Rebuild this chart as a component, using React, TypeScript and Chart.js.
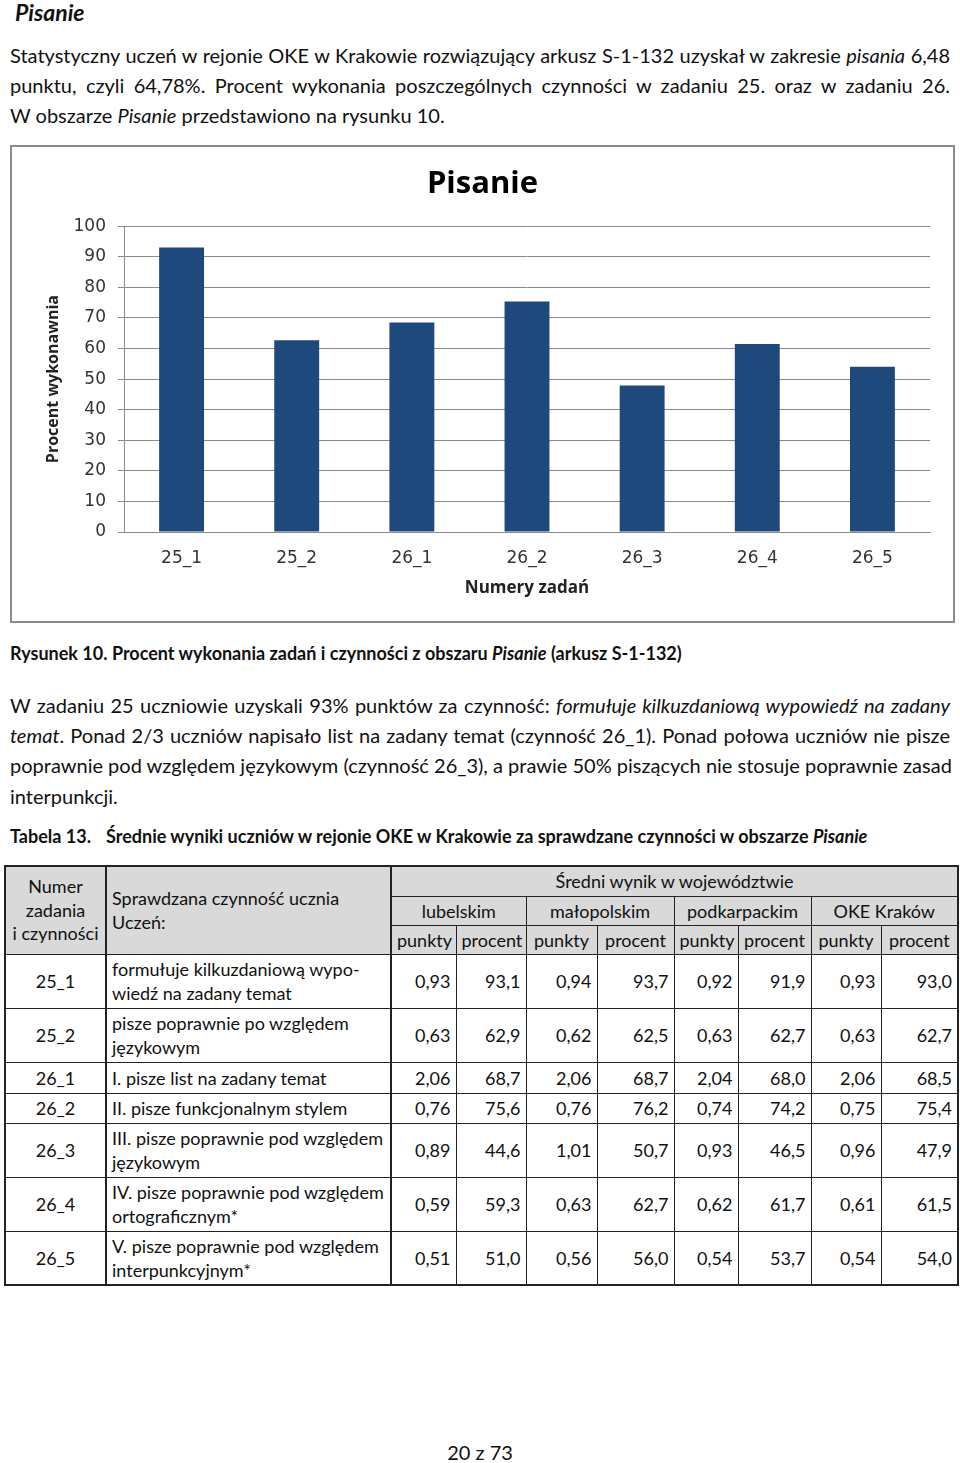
import React, { useEffect, useRef } from "react";
import { Chart, registerables } from "chart.js";

Chart.register(...registerables);

// ---------- chart data ----------
const categories = ["25_1", "25_2", "26_1", "26_2", "26_3", "26_4", "26_5"];
const percentValues = [93.0, 62.7, 68.5, 75.4, 47.9, 61.5, 54.0];
const yMin = 0;
const yMax = 100;
const yStep = 10;
const chartTitle = "Pisanie";
const yAxisTitle = "Procent wykonawnia";
const xAxisTitle = "Numery zadań";

// ---------- table data ----------
const taskIds = ["25_1", "25_2", "26_1", "26_2", "26_3", "26_4", "26_5"];
const taskDescriptions = [
  ["formułuje kilkuzdaniową wypo-", "wiedź na zadany temat"],
  ["pisze poprawnie po względem", "językowym"],
  ["I. pisze list na zadany temat"],
  ["II. pisze funkcjonalnym stylem"],
  ["III. pisze poprawnie pod względem", "językowym"],
  ["IV. pisze poprawnie pod względem", "ortograficznym*"],
  ["V. pisze poprawnie pod względem", "interpunkcyjnym*"],
];
const regions = ["lubelskim", "małopolskim", "podkarpackim", "OKE Kraków"];
const lubelskiePunkty = ["0,93", "0,63", "2,06", "0,76", "0,89", "0,59", "0,51"];
const lubelskieProcent = ["93,1", "62,9", "68,7", "75,6", "44,6", "59,3", "51,0"];
const malopolskiePunkty = ["0,94", "0,62", "2,06", "0,76", "1,01", "0,63", "0,56"];
const malopolskieProcent = ["93,7", "62,5", "68,7", "76,2", "50,7", "62,7", "56,0"];
const podkarpackiePunkty = ["0,92", "0,63", "2,04", "0,74", "0,93", "0,62", "0,54"];
const podkarpackieProcent = ["91,9", "62,7", "68,0", "74,2", "46,5", "61,7", "53,7"];
const okePunkty = ["0,93", "0,63", "2,06", "0,75", "0,96", "0,61", "0,54"];
const okeProcent = ["93,0", "62,7", "68,5", "75,4", "47,9", "61,5", "54,0"];

const TEXT_FONT = "Lato, 'Noto Sans', sans-serif";
const BODY_SIZE = 20;
const CAPTION_SIZE = 18;

function BarChart() {
  const ref = useRef<HTMLCanvasElement | null>(null);
  useEffect(() => {
    if (!ref.current) return;
    const chart = new Chart(ref.current, {
      type: "bar",
      data: {
        labels: categories,
        datasets: [
          {
            data: percentValues,
            backgroundColor: "#1F497D",
            borderWidth: 0,
            categoryPercentage: 1,
            barPercentage: 0.39,
          },
        ],
      },
      options: {
        responsive: false,
        animation: false,
        devicePixelRatio: 1,
        layout: { padding: { top: 0, left: 23, right: 23, bottom: 0 } },
        plugins: {
          legend: { display: false },
          tooltip: { enabled: false },
          title: {
            display: true,
            text: chartTitle,
            color: "#000",
            font: { family: "'Open Sans'", size: 31, weight: "bold", lineHeight: 1.2 },
            padding: { top: 19, bottom: 23 },
          },
        },
        scales: {
          x: {
            grid: { display: false, drawTicks: false },
            border: { display: true, color: "#8a8a8a", width: 1 },
            ticks: {
              color: "#333",
              font: { family: "'DejaVu Sans'", size: 17 },
              padding: 16,
              maxRotation: 0,
            },
            title: {
              display: true,
              text: xAxisTitle,
              color: "#222",
              font: { family: "'Open Sans'", size: 17, weight: "bold", lineHeight: 1.2 },
              padding: { top: 0, bottom: 23 },
            },
            afterFit: (scale: any) => {
              scale.height = 89;
            },
          },
          y: {
            min: yMin,
            max: yMax,
            grid: { color: "#8a8a8a", lineWidth: 1, tickLength: 6, drawTicks: true },
            border: { display: true, color: "#8a8a8a", width: 1 },
            ticks: {
              stepSize: yStep,
              color: "#333",
              font: { family: "'DejaVu Sans'", size: 17 },
              padding: 12,
            },
            title: {
              display: true,
              text: yAxisTitle,
              color: "#222",
              font: { family: "'Open Sans'", size: 16, weight: "bold", lineHeight: 1.2 },
              padding: { top: 9, bottom: 0 },
            },
            afterFit: (scale: any) => {
              scale.width = 89;
            },
          },
        },
      },
    });
    return () => chart.destroy();
  }, []);
  return (
    <div
      style={{
        position: "absolute",
        left: 10,
        top: 145,
        width: 945,
        height: 478,
        border: "2px solid #8c8c8c",
        boxSizing: "border-box",
        background: "#fff",
      }}
    >
      <canvas ref={ref} width={941} height={474} style={{ position: "absolute", left: 0, top: 0 }} />
    </div>
  );
}

function Line({ top, children, justify = false, bold = false, size = BODY_SIZE, left = 10 }: any) {
  return (
    <div
      style={{
        position: "absolute",
        left,
        top: top - 15,
        width: justify ? 940 : undefined,
        whiteSpace: "nowrap",
        height: 30,
        lineHeight: "30px",
        fontFamily: TEXT_FONT,
        fontSize: size,
        fontWeight: bold ? 700 : 400,
        color: "#111",
        textAlign: justify ? "justify" : "left",
        textAlignLast: justify ? "justify" : "left",
      } as any}
    >
      {children}
    </div>
  );
}

const colWidths = [101, 285, 65, 70, 71, 77, 64, 73, 70, 77];
const headerHeights = [30, 29, 29];
const rowHeights = [54, 54, 31, 30, 54, 54, 54];

function DataTable() {
  const cell: React.CSSProperties = {
    border: "1px solid #222",
    padding: "0 5px",
    fontFamily: TEXT_FONT,
    fontSize: 18,
    lineHeight: "24px",
    color: "#111",
    overflow: "hidden",
    whiteSpace: "nowrap",
  };
  const head: React.CSSProperties = { ...cell, background: "#d9d9d9", textAlign: "center" };
  const num: React.CSSProperties = { ...cell, textAlign: "right" };
  const rowsData = taskIds.map((id, i) => [
    lubelskiePunkty[i],
    lubelskieProcent[i],
    malopolskiePunkty[i],
    malopolskieProcent[i],
    podkarpackiePunkty[i],
    podkarpackieProcent[i],
    okePunkty[i],
    okeProcent[i],
  ]);
  return (
    <table
      style={{
        position: "absolute",
        left: 4,
        top: 865,
        width: 953,
        borderCollapse: "collapse",
        tableLayout: "fixed",
        border: "2px solid #222",
      }}
    >
      <colgroup>
        {colWidths.map((w, i) => (
          <col key={i} style={{ width: w }} />
        ))}
      </colgroup>
      <tbody>
        <tr style={{ height: headerHeights[0] }}>
          <td rowSpan={3} style={{ ...head, borderRight: "2px solid #222", lineHeight: "23.5px" }}>
            Numer
            <br />
            zadania
            <br />i czynności
          </td>
          <td rowSpan={3} style={{ ...head, textAlign: "left", borderRight: "2px solid #222", verticalAlign: "top", paddingTop: 19 }}>
            Sprawdzana czynność ucznia
            <br />
            Uczeń:
          </td>
          <td colSpan={8} style={head}>
            Średni wynik w województwie
          </td>
        </tr>
        <tr style={{ height: headerHeights[1] }}>
          {regions.map((r) => (
            <td key={r} colSpan={2} style={head}>
              {r}
            </td>
          ))}
        </tr>
        <tr style={{ height: headerHeights[2] }}>
          {regions.map((r) => (
            <React.Fragment key={r}>
              <td style={head}>punkty</td>
              <td style={head}>procent</td>
            </React.Fragment>
          ))}
        </tr>
        {taskIds.map((id, i) => (
          <tr key={id} style={{ height: rowHeights[i] }}>
            <td style={{ ...cell, textAlign: "center", borderRight: "2px solid #222" }}>{id}</td>
            <td style={{ ...cell, borderRight: "2px solid #222" }}>
              {taskDescriptions[i].map((t, k) => (
                <React.Fragment key={k}>
                  {k > 0 && <br />}
                  {t}
                </React.Fragment>
              ))}
            </td>
            {rowsData[i].map((v, k) => (
              <td key={k} style={num}>
                {v}
              </td>
            ))}
          </tr>
        ))}
      </tbody>
    </table>
  );
}

export default function App() {
  return (
    <div style={{ position: "relative", width: 960, height: 1463, background: "#fff", overflow: "hidden" }}>
      <style>{"body{margin:0;background:#fff}"}</style>
      <div
        style={{
          position: "absolute",
          left: 15,
          top: 0,
          lineHeight: "24px",
          fontFamily: TEXT_FONT,
          fontSize: 23,
          fontWeight: 700,
          fontStyle: "italic",
          color: "#111",
        }}
      >
        Pisanie
      </div>

      <Line top={55} justify>
        Statystyczny uczeń w rejonie OKE w Krakowie rozwiązujący arkusz S-1-132 uzyskał w zakresie <i>pisania</i> 6,48
      </Line>
      <Line top={85} justify>
        punktu, czyli 64,78%. Procent wykonania poszczególnych czynności w zadaniu 25. oraz w zadaniu 26.
      </Line>
      <Line top={115}>
        W obszarze <i>Pisanie</i> przedstawiono na rysunku 10.
      </Line>

      <BarChart />

      <Line top={653} bold size={CAPTION_SIZE}>
        Rysunek 10. Procent wykonania zadań i czynności z obszaru <i>Pisanie</i> (arkusz S-1-132)
      </Line>

      <Line top={705} justify>
        W zadaniu 25 uczniowie uzyskali 93% punktów za czynność: <i>formułuje kilkuzdaniową wypowiedź na zadany</i>
      </Line>
      <Line top={735} justify>
        <i>temat</i>. Ponad 2/3 uczniów napisało list na zadany temat (czynność 26_1). Ponad połowa uczniów nie pisze
      </Line>
      <Line top={765} justify>
        poprawnie pod względem językowym (czynność 26_3), a prawie 50% piszących nie stosuje poprawnie zasad
      </Line>
      <Line top={796}>interpunkcji.</Line>

      <Line top={836} bold size={CAPTION_SIZE}>
        Tabela 13.
      </Line>
      <Line top={836} bold size={CAPTION_SIZE} left={106}>
        Średnie wyniki uczniów w rejonie OKE w Krakowie za sprawdzane czynności w obszarze <i>Pisanie</i>
      </Line>

      <DataTable />

      <div
        style={{
          position: "absolute",
          left: 0,
          width: 960,
          top: 1437,
          lineHeight: "30px",
          textAlign: "center",
          fontFamily: TEXT_FONT,
          fontSize: BODY_SIZE,
          color: "#111",
        }}
      >
        20 z 73
      </div>
    </div>
  );
}
